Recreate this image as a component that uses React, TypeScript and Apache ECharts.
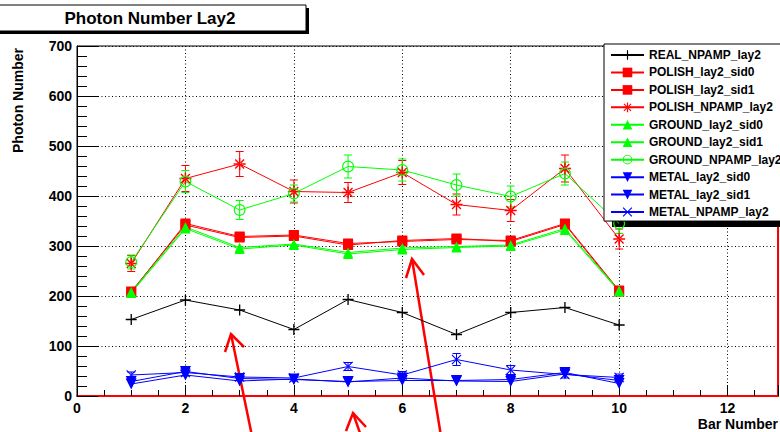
import React, { useEffect, useRef } from 'react';
import * as echarts from 'echarts';

// Bar index along the x axis
const barNumbers = [1, 2, 3, 4, 5, 6, 7, 8, 9, 10];

// Photon numbers per bar
const realNpamp = [153, 192, 172, 133, 193, 167, 123, 167, 177, 142];
const polishSid0 = [207, 345, 319, 322, 305, 309, 313, 311, 345, 211];
const polishSid1 = [209, 342, 317, 320, 302, 311, 315, 309, 343, 209];
const polishNpamp = [265, 435, 464, 409, 407, 447, 383, 371, 455, 314];
const polishNpampErr = [16, 26, 25, 23, 20, 24, 21, 22, 27, 20];
const groundSid0 = [206, 335, 294, 302, 284, 293, 297, 300, 332, 209];
const groundSid1 = [208, 338, 297, 304, 287, 296, 299, 302, 335, 211];
const groundNpamp = [268, 429, 372, 405, 459, 452, 422, 399, 445, 345];
const groundNpampErr = [14, 22, 19, 17, 23, 22, 22, 21, 23, 20];
const metalSid0 = [29, 49, 35, 33, 29, 31, 31, 33, 47, 25];
const metalSid1 = [24, 42, 30, 34, 28, 36, 30, 29, 44, 31];
const metalNpamp = [42, 47, 38, 36, 59, 42, 73, 52, 43, 37];
const metalNpampErr = [6, 7, 6, 6, 8, 7, 12, 9, 7, 7];

const yTicks = [0, 100, 200, 300, 400, 500, 600, 700];

const RED = '#ff0000';
const GREEN = '#00ff00';
const BLUE = '#0000ff';
const BLACK = '#000000';
const FONT = '"Liberation Sans", Arial, Helvetica, sans-serif';

// Marker shapes in the style of ROOT markers
const PLUS = 'path://M4.4,0H5.6V10H4.4Z M0,4.4H10V5.6H0Z';
const CROSS =
  'path://M0,0.8L0.8,0L10,9.2L9.2,10Z M10,0.8L9.2,0L0,9.2L0.8,10Z';
const STAR =
  'path://M4.4,0H5.6V10H4.4Z M0,4.4H10V5.6H0Z M0.9,1.7L1.7,0.9L9.1,8.3L8.3,9.1Z M9.1,1.7L8.3,0.9L0.9,8.3L1.7,9.1Z';
const RING =
  'path://M5,0A5,5 0 1,1 5,10A5,5 0 1,1 5,0Z M5,1A4,4 0 1,0 5,9A4,4 0 1,0 5,1Z';

type Def = {
  name: string;
  values: number[];
  color: string;
  symbol: string;
  size: number;
  rotate?: number;
  errors?: number[];
};

const defs: Def[] = [
  { name: 'REAL_NPAMP_lay2', values: realNpamp, color: BLACK, symbol: PLUS, size: 11 },
  { name: 'POLISH_lay2_sid0', values: polishSid0, color: RED, symbol: 'rect', size: 10 },
  { name: 'POLISH_lay2_sid1', values: polishSid1, color: RED, symbol: 'rect', size: 10 },
  { name: 'POLISH_NPAMP_lay2', values: polishNpamp, color: RED, symbol: STAR, size: 12, errors: polishNpampErr },
  { name: 'GROUND_lay2_sid0', values: groundSid0, color: GREEN, symbol: 'triangle', size: 10 },
  { name: 'GROUND_lay2_sid1', values: groundSid1, color: GREEN, symbol: 'triangle', size: 10 },
  { name: 'GROUND_NPAMP_lay2', values: groundNpamp, color: GREEN, symbol: RING, size: 12, errors: groundNpampErr },
  { name: 'METAL_lay2_sid0', values: metalSid0, color: BLUE, symbol: 'triangle', size: 11, rotate: 180 },
  { name: 'METAL_lay2_sid1', values: metalSid1, color: BLUE, symbol: 'triangle', size: 11, rotate: 180 },
  { name: 'METAL_NPAMP_lay2', values: metalNpamp, color: BLUE, symbol: CROSS, size: 10, errors: metalNpampErr },
];

function errorBarSeries(d: Def) {
  const errs = d.errors as number[];
  return {
    type: 'custom',
    name: d.name + '_err',
    encode: { x: 0, y: [1, 2] },
    z: 2,
    data: barNumbers.map((x, i) => [x, d.values[i] - errs[i], d.values[i] + errs[i]]),
    renderItem: (_params: any, api: any) => {
      const x = api.value(0);
      const lo = api.coord([x, api.value(1)]);
      const hi = api.coord([x, api.value(2)]);
      const cap = 4;
      const style = { stroke: d.color, lineWidth: 1 };
      return {
        type: 'group',
        children: [
          { type: 'line', shape: { x1: lo[0], y1: lo[1], x2: hi[0], y2: hi[1] }, style },
          { type: 'line', shape: { x1: lo[0] - cap, y1: lo[1], x2: lo[0] + cap, y2: lo[1] }, style },
          { type: 'line', shape: { x1: hi[0] - cap, y1: hi[1], x2: hi[0] + cap, y2: hi[1] }, style },
        ],
      };
    },
  };
}

function lineSeries(d: Def) {
  return {
    type: 'line',
    name: d.name,
    z: 3,
    data: barNumbers.map((x, i) => [x, d.values[i]]),
    symbol: d.symbol,
    symbolSize: d.size,
    symbolRotate: d.rotate || 0,
    showAllSymbol: true,
    itemStyle: { color: d.color },
    lineStyle: { color: d.color, width: 1 },
    emphasis: { disabled: true },
  };
}

const dotted = { show: true, lineStyle: { color: BLACK, width: 1, type: [1, 2.5] } };
const labelStyle = { color: BLACK, fontWeight: 'bold', fontSize: 14, fontFamily: FONT };

function redArrow(tip: number[], tail: number[], w1: number[], w2: number[]) {
  const style = { stroke: RED, lineWidth: 2.5 };
  return {
    type: 'group',
    z: 20,
    children: [
      { type: 'line', shape: { x1: tail[0], y1: tail[1], x2: tip[0], y2: tip[1] }, style },
      { type: 'polyline', shape: { points: [w1, tip, w2] }, style: { ...style, fill: null } },
    ],
  };
}

export default function App() {
  const ref = useRef<HTMLDivElement>(null);

  useEffect(() => {
    if (!ref.current) return;
    const chart = echarts.init(ref.current, undefined, { renderer: 'svg' });

    const series: any[] = [];
    defs.forEach((d) => {
      if (d.errors) series.push(errorBarSeries(d));
      series.push(lineSeries(d));
    });

    chart.setOption({
      animation: false,
      backgroundColor: '#ffffff',
      grid: {
        left: 77,
        top: 46,
        right: 2,
        bottom: 36,
        show: true,
        borderColor: BLACK,
        borderWidth: 1,
        backgroundColor: 'transparent',
      },
      xAxis: {
        type: 'value',
        min: 0,
        max: 12.93,
        interval: 2,
        axisLine: { show: true, onZero: false, lineStyle: { color: RED, width: 2 } },
        axisTick: { show: true, inside: true, length: 11, lineStyle: { color: BLACK } },
        minorTick: { show: true, splitNumber: 4, length: 6, lineStyle: { color: BLACK } },
        axisLabel: {
          ...labelStyle,
          margin: 5,
          showMaxLabel: false,
          formatter: (v: number) => (v % 2 === 0 ? String(v) : ''),
        },
        splitLine: dotted,
      },
      yAxis: [
        {
          type: 'value',
          min: yTicks[0],
          max: yTicks[yTicks.length - 1],
          interval: 100,
          axisLine: { show: true, lineStyle: { color: BLACK, width: 1 } },
          axisTick: { show: true, inside: true, length: 21, lineStyle: { color: BLACK } },
          minorTick: { show: true, splitNumber: 5, length: 10, lineStyle: { color: BLACK } },
          axisLabel: { ...labelStyle, margin: 5 },
          splitLine: dotted,
        },
        {
          type: 'value',
          position: 'right',
          min: yTicks[0],
          max: yTicks[yTicks.length - 1],
          axisLine: { show: true, lineStyle: { color: RED, width: 2 } },
          axisTick: { show: false },
          axisLabel: { show: false },
          splitLine: { show: false },
        },
      ],
      legend: {
        orient: 'vertical',
        left: 604,
        top: 44,
        padding: [5, 40, 3, 6],
        itemWidth: 33,
        itemHeight: 12,
        itemGap: 5.45,
        backgroundColor: '#ffffff',
        borderColor: BLACK,
        borderWidth: 1,
        borderRadius: 0,
        selectedMode: false,
        data: defs.map((d) => d.name),
        textStyle: { color: BLACK, fontWeight: 'bold', fontSize: 12, fontFamily: FONT },
      },
      graphic: [
        // legend drop shadow
        { type: 'rect', z: 3, shape: { x: 612, y: 50, width: 200, height: 177 }, style: { fill: BLACK } },
        // title box with drop shadow
        { type: 'rect', z: 10, shape: { x: -8, y: 8, width: 317, height: 26 }, style: { fill: BLACK } },
        {
          type: 'rect',
          z: 11,
          shape: { x: -10, y: 5, width: 316, height: 26 },
          style: { fill: '#ffffff', stroke: BLACK, lineWidth: 1 },
        },
        {
          type: 'text',
          z: 12,
          x: 150,
          y: 18.5,
          style: {
            text: 'Photon Number Lay2',
            fill: BLACK,
            font: 'bold 17px ' + FONT,
            align: 'center',
            verticalAlign: 'middle',
          },
        },
        // axis titles
        {
          type: 'text',
          z: 12,
          x: 18,
          y: 48,
          rotation: Math.PI / 2,
          style: {
            text: 'Photon Number',
            fill: BLACK,
            font: 'bold 14px ' + FONT,
            align: 'right',
            verticalAlign: 'middle',
          },
        },
        {
          type: 'text',
          z: 12,
          x: 778,
          y: 424,
          style: {
            text: 'Bar Number',
            fill: BLACK,
            font: 'bold 14px ' + FONT,
            align: 'right',
            verticalAlign: 'middle',
          },
        },
        // hand-drawn red arrows
        redArrow([231, 334], [252, 436], [225, 352], [244, 347]),
        redArrow([353, 413], [361, 436], [346, 431], [366, 427]),
        redArrow([412, 259], [441, 436], [406, 278], [424, 275]),
      ],
      series,
    });

    return () => chart.dispose();
  }, []);

  return (
    <div
      ref={ref}
      style={{ position: 'fixed', left: 0, top: 0, width: 780, height: 432 }}
    />
  );
}
